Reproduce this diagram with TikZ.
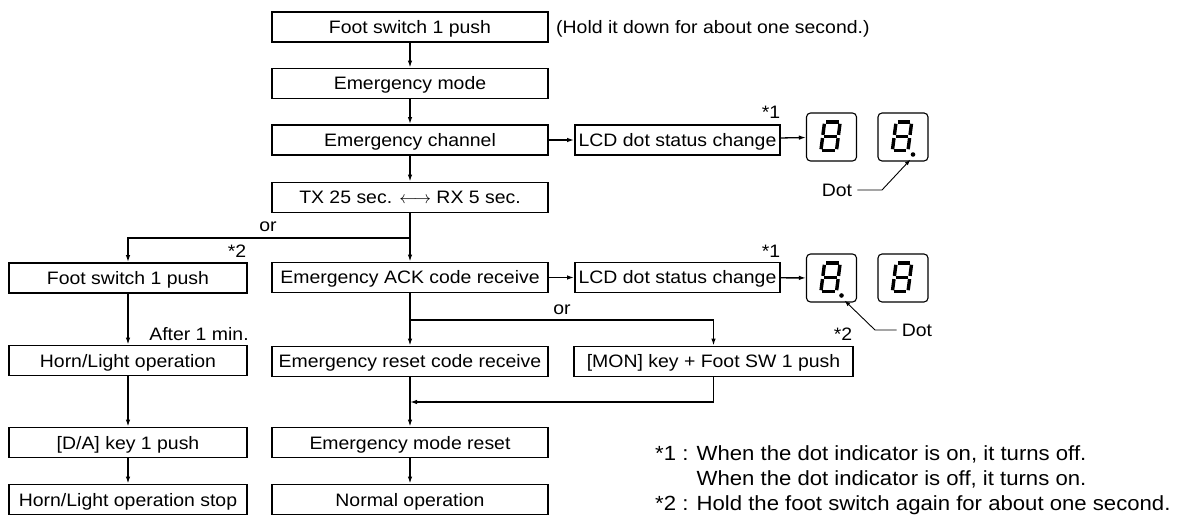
\documentclass[tikz,border=0pt]{standalone}
\usepackage{fontspec}
\setmainfont{Liberation Sans}[FakeStretch=1.08]
\usetikzlibrary{arrows.meta,calc}
\newcommand{\sevenseg}[1]{%
  \begin{scope}[shift={($(#1.center)+(-1,-0.5)$)},xslant=0.13]
    \draw[seg] (-6.2,-14.3)--(6.2,-14.3);
    \draw[seg] (7.8,-12.7)--(7.8,-1.6);
    \draw[seg] (7.8,1.6)--(7.8,12.7);
    \draw[seg] (-6.2,14.3)--(6.2,14.3);
    \draw[seg] (-7.8,1.6)--(-7.8,12.7);
    \draw[seg] (-7.8,-12.7)--(-7.8,-1.6);
    \draw[seg] (-6.2,0)--(6.2,0);
  \end{scope}}
\begin{document}
\begin{tikzpicture}[x=1pt,y=-1pt,
  every node/.style={font=\fontsize{18}{21}\selectfont},
  box/.style={draw,line width=1.8pt,minimum height=30pt,inner sep=0pt,anchor=center,
              text height=13pt,text depth=0pt},
  arr/.style={line width=1.3pt,-{Latex[length=7pt,width=4.5pt]}},
  thinarr/.style={line width=0.9pt,-{Latex[length=6pt,width=4pt]}},
  disp/.style={draw,rounded corners=4pt,line width=1.1pt,minimum width=50pt,minimum height=48pt,inner sep=0pt},
  seg/.style={line width=3.4pt},
  lbl/.style={inner sep=0pt,text height=13pt,text depth=0pt},
  foot/.style={inner sep=0pt,anchor=base west,font=\fontsize{20.5}{24}\selectfont}]
\useasboundingbox (0,0) rectangle (1183,518);

% centre column
\node[box,minimum width=276pt] (fs) at (410,27) {Foot switch 1 push};
\node[box,minimum width=276pt] (em) at (410,83.5) {Emergency mode};
\node[box,minimum width=276pt] (ec) at (410,140) {Emergency channel};
\node[box,minimum width=276pt] (tx) at (410,197.5) {TX 25 sec. $\longleftrightarrow$ RX 5 sec.};
\node[box,minimum width=276pt] (ack) at (410,277.5) {Emergency ACK code receive};
\node[box,minimum width=276pt] (rcode) at (410,361.5) {Emergency reset code receive};
\node[box,minimum width=276pt] (emr) at (410,442.5) {Emergency mode reset};
\node[box,minimum width=276pt] (norm) at (410,499.5) {Normal operation};

% left column
\node[box,minimum width=238pt] (lfs) at (128,278) {Foot switch 1 push};
\node[box,minimum width=238pt] (horn) at (128,360.5) {Horn/Light operation};
\node[box,minimum width=238pt] (da) at (128,442.5) {[D/A] key 1 push};
\node[box,minimum width=238pt] (stop) at (128,499.5) {Horn/Light operation stop};

% right side
\node[box,minimum width=205pt] (lcd1) at (677.5,140) {LCD dot status change};
\node[box,minimum width=205pt] (lcd2) at (677.5,277.5) {LCD dot status change};
\node[box,minimum width=279pt] (mon) at (713.5,361.5) {[MON] key + Foot SW 1 push};

% displays
\node[disp] (d1) at (831.5,137) {};
\node[disp] (d2) at (903,137) {};
\node[disp] (d3) at (831.5,278) {};
\node[disp] (d4) at (903,278) {};
\sevenseg{d1}\sevenseg{d2}\sevenseg{d3}\sevenseg{d4}
\coordinate (dot1) at ($(d2.center)+(10,17.5)$);
\coordinate (dot2) at ($(d3.center)+(10,17.5)$);
\fill (dot1) circle (2.3pt);
\fill (dot2) circle (2.3pt);

% labels
\node[lbl,anchor=west] (hold) at (556,27) {(Hold it down for about one second.)};
\node[lbl] (s1a) at (771,112) {*1};
\node[lbl] (s1b) at (771,251) {*1};
\node[lbl] (or1) at (268,225) {or};
\node[lbl] (s2a) at (237,251) {*2};
\node[lbl] (after) at (199,334) {After 1 min.};
\node[lbl] (or2) at (562,308) {or};
\node[lbl] (s2b) at (843,334) {*2};
\node[lbl] (dotl1) at (837,190) {Dot};
\node[lbl] (dotl2) at (917,330) {Dot};
\node[foot] (fn1) at (655,460) {*1 : When the dot indicator is on, it turns off.};
\node[foot] (fn1b) at (655,485) {\phantom{*1 : }When the dot indicator is off, it turns on.};
\node[foot] (fn2) at (655,510) {*2 : Hold the foot switch again for about one second.};

% connectors
\draw[arr] (fs) -- (em);
\draw[arr] (em) -- (ec);
\draw[arr] (ec) -- (tx);
\draw[arr] (ec) -- (lcd1);
\draw[arr] (lcd1) -- (d1);
\draw[arr] (tx) -- (ack);
\coordinate (br1) at (410,238);
\draw[arr] (br1) -| (lfs);
\draw[arr] (ack) -- (lcd2);
\draw[arr] (lcd2) -- (d3);
\draw[arr] (ack) -- (rcode);
\coordinate (br2) at (410,320);
\draw[arr] (br2) -| (mon);
\draw[arr] (rcode) -- (emr);
\coordinate (mg) at (410,402);
\draw[arr] (mon.south) |- (mg);
\draw[arr] (emr) -- (norm);
\draw[arr] (lfs) -- (horn);
\draw[arr] (horn) -- (da);
\draw[arr] (da) -- (stop);

% dot pointers
\coordinate (k1) at (882,190);
\coordinate (k2) at (875,330);
\draw[thinarr] ([xshift=5pt]dotl1.east) -- (k1) -- ($(dot1)+(-2.5,5)$);
\draw[thinarr] ([xshift=-5pt]dotl2.west) -- (k2) -- ($(dot2)+(3,5)$);
\end{tikzpicture}
\end{document}
